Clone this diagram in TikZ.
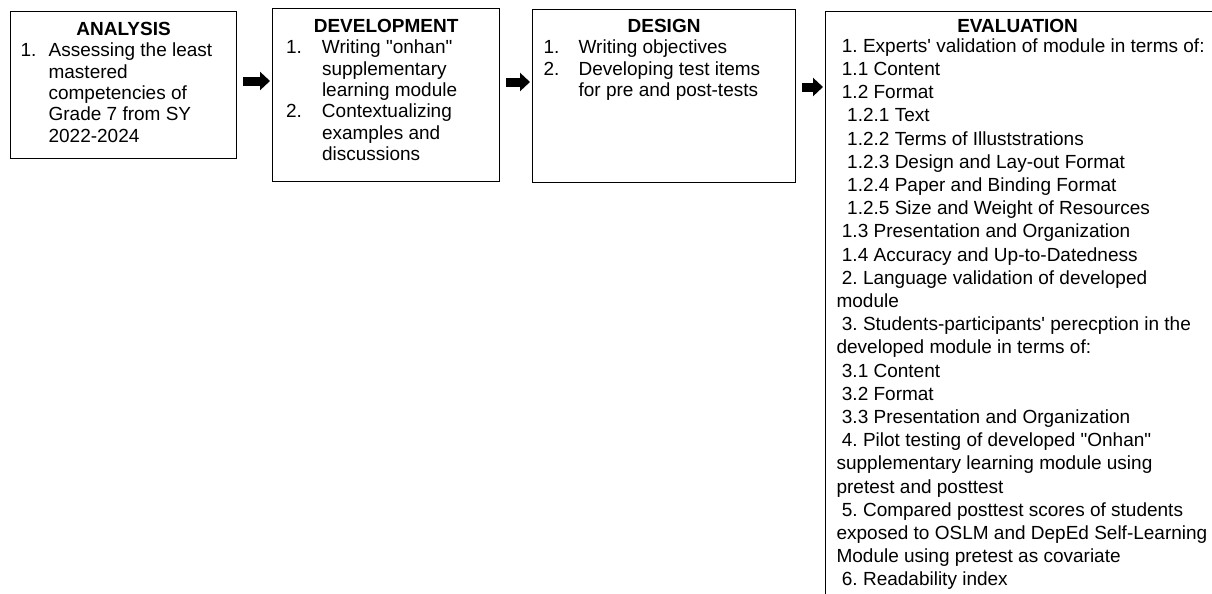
\documentclass[tikz,border=0pt]{standalone}
\usepackage{fontspec}
\setmainfont{Liberation Sans}
\usetikzlibrary{arrows.meta}
\tikzset{stage/.style = {draw, line width = 0.6pt, anchor = north west, inner sep = 0,
                         font = \fontsize{9.5}{10.7}\selectfont}}
\tikzset{flow/.style = {line width = 4.5pt, -{Triangle[length = 5pt, width = 9pt]},
                        shorten <= 3pt, shorten >= 1pt}}
\newcommand{\stagehead}[3]{\rule{0pt}{#1}\makebox[#2]{\textbf{#3}}\par}
\newcommand{\stageitem}[3]{\hangindent = #1 \hangafter = 1 \noindent\makebox[#1][l]{#2}#3\par}
\newcommand{\evlead}{\hspace*{0.28em}}
\frenchspacing

\begin{document}
\begin{tikzpicture}[x = 0.5pt, y = -0.5pt]
    \useasboundingbox (0, 0) rectangle (1212, 594);
    \node [stage] (analysis) at (10, 11) {\parbox[t][73.5pt][t]{113pt}{%
        \stagehead{11.85pt}{\linewidth}{ANALYSIS}
        \leftskip = 5pt
        \stageitem{14pt}{1.}{Assessing the least\newline mastered\newline competencies of\newline
                             Grade 7 from SY\newline 2022-2024}}};
    \node [stage] (development) at (272, 8) {\parbox[t][86.5pt][t]{113.5pt}{%
        \stagehead{11.85pt}{\linewidth}{DEVELOPMENT}
        \leftskip = 6.7pt
        \stageitem{18pt}{1.}{Writing \textquotedbl onhan\textquotedbl\newline supplementary\newline
                             learning module}
        \stageitem{18pt}{2.}{Contextualizing\newline examples and\newline discussions}}};
    \node [stage] (design) at (532, 9) {\parbox[t][86.5pt][t]{131.5pt}{%
        \stagehead{11.35pt}{\linewidth}{DESIGN}
        \leftskip = 5.5pt
        \stageitem{17.5pt}{1.}{Writing objectives}
        \stageitem{17.5pt}{2.}{Developing test items\newline for pre and post-tests}}};
    \node [stage] (evaluation) at (825, 11) {\parbox[t][300pt][t]{210pt}{%
        \stagehead{10.35pt}{192pt}{EVALUATION}
        \vspace{-1.6pt}
        \leftskip = 5.5pt \baselineskip = 11.6pt
        \evlead 1. Experts\textquotesingle{} validation of module in terms of:\newline
        \evlead 1.1 Content\newline
        \evlead 1.2 Format\newline
        \evlead\evlead 1.2.1 Text\newline
        \evlead\evlead 1.2.2 Terms of Illuststrations\newline
        \evlead\evlead 1.2.3 Design and Lay-out Format\newline
        \evlead\evlead 1.2.4 Paper and Binding Format\newline
        \evlead\evlead 1.2.5 Size and Weight of Resources\newline
        \evlead 1.3 Presentation and Organization\newline
        \evlead 1.4 Accuracy and Up-to-Datedness\newline
        \evlead 2. Language validation of developed\newline
        module\newline
        \evlead 3. Students-participants\textquotesingle{} perecption in the\newline
        developed module in terms of:\newline
        \evlead 3.1 Content\newline
        \evlead 3.2 Format\newline
        \evlead 3.3 Presentation and Organization\newline
        \evlead 4. Pilot testing of developed \textquotedbl Onhan\textquotedbl\newline
        supplementary learning module using\newline
        pretest and posttest\newline
        \evlead 5. Compared posttest scores of students\newline
        exposed to OSLM and DepEd Self-Learning\newline
        Module using pretest as covariate\newline
        \evlead 6. Readability index\par}};
    \coordinate (lane1) at (0, 81);
    \coordinate (lane2) at (0, 82);
    \coordinate (lane3) at (0, 87);
    \draw [flow] (analysis.east |- lane1) -- (development.west |- lane1);
    \draw [flow] (development.east |- lane2) -- (design.west |- lane2);
    \draw [flow] (design.east |- lane3) -- (evaluation.west |- lane3);
\end{tikzpicture}
\end{document}
